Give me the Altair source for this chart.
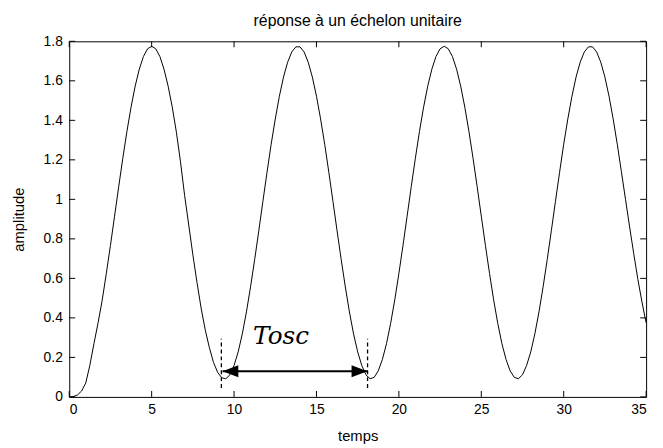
import altair as alt
import pandas as pd

# time samples (s)
temps = [
    0.0, 0.25, 0.5, 0.75, 1.0, 1.25, 1.5, 1.75, 2.0, 2.25, 2.5, 2.75, 3.0, 3.25, 3.5, 3.75,
    4.0, 4.25, 4.5, 4.75, 5.0, 5.25, 5.5, 5.75, 6.0, 6.25, 6.5, 6.75, 7.0, 7.25, 7.5, 7.75,
    8.0, 8.25, 8.5, 8.75, 9.0, 9.25, 9.5, 9.75, 10.0, 10.25, 10.5, 10.75, 11.0, 11.25, 11.5, 11.75,
    12.0, 12.25, 12.5, 12.75, 13.0, 13.25, 13.5, 13.75, 14.0, 14.25, 14.5, 14.75, 15.0, 15.25, 15.5, 15.75,
    16.0, 16.25, 16.5, 16.75, 17.0, 17.25, 17.5, 17.75, 18.0, 18.25, 18.5, 18.75, 19.0, 19.25, 19.5, 19.75,
    20.0, 20.25, 20.5, 20.75, 21.0, 21.25, 21.5, 21.75, 22.0, 22.25, 22.5, 22.75, 23.0, 23.25, 23.5, 23.75,
    24.0, 24.25, 24.5, 24.75, 25.0, 25.25, 25.5, 25.75, 26.0, 26.25, 26.5, 26.75, 27.0, 27.25, 27.5, 27.75,
    28.0, 28.25, 28.5, 28.75, 29.0, 29.25, 29.5, 29.75, 30.0, 30.25, 30.5, 30.75, 31.0, 31.25, 31.5, 31.75,
    32.0, 32.25, 32.5, 32.75, 33.0, 33.25, 33.5, 33.75, 34.0, 34.25, 34.5, 34.75, 35.0,
]

# step response amplitude
amplitude = [
    0.000, 0.002, 0.010, 0.030, 0.070, 0.160, 0.270, 0.375, 0.490, 0.625, 0.767, 0.915, 1.064, 1.208, 1.344, 1.467,
    1.573, 1.659, 1.723, 1.762, 1.775, 1.762, 1.723, 1.659, 1.573, 1.467, 1.340, 1.190, 1.020, 0.870, 0.720, 0.580,
    0.450, 0.340, 0.250, 0.175, 0.125, 0.097, 0.092, 0.112, 0.159, 0.228, 0.319, 0.430, 0.557, 0.695, 0.841, 0.990,
    1.137, 1.279, 1.407, 1.522, 1.619, 1.694, 1.746, 1.772, 1.772, 1.746, 1.694, 1.619, 1.522, 1.407, 1.279, 1.137,
    0.990, 0.841, 0.695, 0.557, 0.430, 0.319, 0.228, 0.159, 0.112, 0.092, 0.099, 0.132, 0.190, 0.270, 0.372, 0.491,
    0.625, 0.767, 0.915, 1.064, 1.208, 1.344, 1.467, 1.573, 1.659, 1.723, 1.762, 1.775, 1.762, 1.723, 1.659, 1.573,
    1.467, 1.344, 1.208, 1.064, 0.915, 0.767, 0.625, 0.491, 0.372, 0.270, 0.190, 0.132, 0.099, 0.092, 0.112, 0.159,
    0.228, 0.319, 0.430, 0.557, 0.695, 0.841, 0.990, 1.137, 1.279, 1.407, 1.522, 1.619, 1.694, 1.746, 1.772, 1.772,
    1.746, 1.694, 1.619, 1.522, 1.407, 1.279, 1.140, 1.000, 0.860, 0.725, 0.595, 0.480, 0.375,
]

x_ticks = [0, 5, 10, 15, 20, 25, 30, 35]
y_ticks = [0, 0.2, 0.4, 0.6, 0.8, 1, 1.2, 1.4, 1.6, 1.8]

title_text = "réponse à un échelon unitaire"
x_title = "temps"
y_title = "amplitude"

# annotation (Tosc)
marker_x = [9.23, 18.1]
marker_y_low = 0.045
marker_y_high = 0.295
arrow_x_start = 9.3
arrow_x_end = 18.09
arrow_y = 0.13
label_text = "Tosc"
label_x = 12.85
label_y = 0.27

W, H = 584, 360
TICK = 6
FONT = "Liberation Sans"

xs = alt.Scale(domain=[0, 35], nice=False, zero=False)
ys = alt.Scale(domain=[0, 1.8], nice=False, zero=False)

curve_df = pd.DataFrame({"t": temps, "a": amplitude})
xt_df = pd.DataFrame({"t": x_ticks})
yt_df = pd.DataFrame({"a": y_ticks})
mk_df = pd.DataFrame({"t": marker_x, "a": [marker_y_low] * 2, "a2": [marker_y_high] * 2})
arrow_df = pd.DataFrame({"t": [arrow_x_start], "t2": [arrow_x_end], "a": [arrow_y]})
head_l_df = pd.DataFrame({"t": [arrow_x_start + 0.48], "a": [arrow_y]})
head_r_df = pd.DataFrame({"t": [arrow_x_end - 0.48], "a": [arrow_y]})
label_df = pd.DataFrame({"t": [label_x], "a": [label_y], "txt": [label_text]})
title_df = pd.DataFrame({"txt": [title_text]})

X = alt.X("t:Q", scale=xs, title=x_title, axis=alt.Axis(
    values=x_ticks, format="~g", grid=False, domain=False, ticks=False,
    tickSize=0, labelPadding=6, titlePadding=12,
    labelFont=FONT, labelFontSize=14, labelColor="black",
    titleFont=FONT, titleFontSize=15, titleFontWeight="normal", titleColor="black"))
Y = alt.Y("a:Q", scale=ys, title=y_title, axis=alt.Axis(
    values=y_ticks, format="~g", grid=False, domain=False, ticks=False,
    tickSize=0, labelPadding=7, titlePadding=17,
    labelFont=FONT, labelFontSize=14, labelColor="black",
    titleFont=FONT, titleFontSize=15, titleFontWeight="normal", titleColor="black"))

curve = alt.Chart(curve_df).mark_line(color="black", strokeWidth=1).encode(x=X, y=Y)

xt_bottom = alt.Chart(xt_df).mark_rule(color="black", strokeWidth=1).encode(
    x=X, y=alt.value(H), y2=alt.value(H - TICK))
xt_top = alt.Chart(xt_df).mark_rule(color="black", strokeWidth=1).encode(
    x=X, y=alt.value(0), y2=alt.value(TICK))
yt_left = alt.Chart(yt_df).mark_rule(color="black", strokeWidth=1).encode(
    y=Y, x=alt.value(0), x2=alt.value(TICK))
yt_right = alt.Chart(yt_df).mark_rule(color="black", strokeWidth=1).encode(
    y=Y, x=alt.value(W - TICK), x2=alt.value(W))

markers = alt.Chart(mk_df).mark_rule(color="black", strokeWidth=1.3, strokeDash=[4, 3]).encode(
    x=X, y=Y, y2="a2:Q")

arrow_line = alt.Chart(arrow_df).mark_rule(color="black", strokeWidth=2).encode(
    x=X, x2="t2:Q", y=Y)

head_left = alt.Chart(head_l_df).mark_point(
    shape="M-1,0L1,-0.75L1,0.75Z", filled=True, color="black", size=256, opacity=1
).encode(x=X, y=Y)
head_right = alt.Chart(head_r_df).mark_point(
    shape="M1,0L-1,-0.75L-1,0.75Z", filled=True, color="black", size=256, opacity=1
).encode(x=X, y=Y)

label = alt.Chart(label_df).mark_text(
    font="DejaVu Serif", fontStyle="italic", fontSize=25, color="black",
    align="center", baseline="alphabetic"
).encode(x=X, y=Y, text="txt:N")

title = alt.Chart(title_df).mark_text(
    font=FONT, fontSize=16, color="black", align="center", baseline="alphabetic"
).encode(x=alt.value(W / 2), y=alt.value(-15), text="txt:N")

chart = alt.layer(
    curve, xt_bottom, xt_top, yt_left, yt_right, markers, arrow_line, head_left, head_right,
    label, title
).properties(
    width=W, height=H,
    autosize=alt.AutoSizeParams(type="none"),
    padding={"left": 62, "top": 31, "right": 9, "bottom": 49},
    background="white",
).configure_view(stroke="black", strokeWidth=1)

chart.save("out.html", embed_options={"renderer": "svg", "actions": False})
